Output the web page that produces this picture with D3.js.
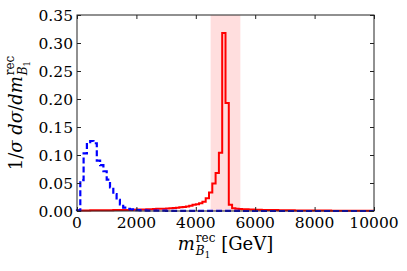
<!DOCTYPE html>
<html lang="en">
<head>
<meta charset="UTF-8">
<script src="https://d3js.org/d3.v7.min.js"></script>
<title>m_B1 rec</title>
<style>
  body { margin: 0; background: #fff; }
  svg text { font-family: "DejaVu Serif", "Liberation Serif", serif; fill: #000; }
</style>
</head>
<body>
<script>
// histogram: 90 bins from 0 to 10000 GeV
var binEdges = d3.range(0, 91).map(function(i) { return i * 10000 / 90; });

var redVals = [
  0.0008, 0.001, 0.001, 0.001, 0.0012, 0.0012, 0.0013, 0.0013, 0.0014,
  0.0015, 0.0015, 0.0016, 0.0017, 0.0018, 0.0018, 0.002, 0.002, 0.0022,
  0.0025, 0.0026, 0.0028, 0.003, 0.0032,
  0.0035, 0.0038, 0.004, 0.0042,
  0.0045, 0.005, 0.0055, 0.006,
  0.0065, 0.0072, 0.008,
  0.0095, 0.011, 0.012, 0.014, 0.0166, 0.0227, 0.033, 0.049, 0.068, 0.104, 0.318, 0.193, 0.011, 0.005, 0.004,
  0.0035, 0.003, 0.003, 0.0028,
  0.0025, 0.0024, 0.0022, 0.002, 0.002, 0.0018, 0.0017, 0.0016,
  0.0015, 0.0014, 0.0013, 0.0012, 0.0012, 0.0011, 0.001, 0.001, 0.0009, 0.0009,
  0.0008, 0.0008, 0.0008, 0.0007, 0.0007, 0.0007, 0.0006, 0.0006, 0.0006, 0.0005,
  0.0005, 0.0005, 0.0004, 0.0004, 0.0004, 0.0003, 0.0003, 0.0003, 0.0003
];

var blueVals = [
  0.001, 0.055, 0.103, 0.123, 0.125, 0.121, 0.09, 0.082, 0.071, 0.056,
  0.042, 0.03, 0.02, 0.012, 0.006, 0.004, 0.003, 0.002, 0.0015, 0.0012,
  0.001, 0.0008, 0.0008, 0.0007, 0.0006, 0.0005, 0.0005, 0.0004, 0.0004, 0.0003,
  0.0003, 0.0003, 0.0002, 0.0002, 0.0002, 0.0002, 0.0002, 0.0001, 0.0001, 0.0001,
  0.0001, 0.0001, 0.0001, 0.0001, 0.0001, 0.0001, 0.0001, 0.0001, 0.0001, 0.0001,
  0, 0, 0, 0, 0, 0, 0, 0, 0, 0,
  0, 0, 0, 0, 0, 0, 0, 0, 0, 0,
  0, 0, 0, 0, 0, 0, 0, 0, 0, 0,
  0, 0, 0, 0, 0, 0, 0, 0, 0, 0
];

var xTicks = [0, 2000, 4000, 6000, 8000, 10000];
var yTicks = [0, 0.05, 0.10, 0.15, 0.20, 0.25, 0.30, 0.35];
var bandRange = [4500, 5500];

var W = 407, H = 271;
var margin = {top: 15, right: 33, bottom: 60, left: 77},
    width = W - margin.left - margin.right,
    height = H - margin.top - margin.bottom;

var x = d3.scaleLinear().domain([0, 10000]).range([0, width]);
var y = d3.scaleLinear().domain([0, 0.35]).range([height, 0]);

var svg = d3.select("body").append("svg")
    .attr("width", W)
    .attr("height", H);

var g = svg.append("g")
    .attr("transform", "translate(" + margin.left + "," + margin.top + ")");

// highlighted mass window
g.append("rect")
    .attr("x", x(bandRange[0]))
    .attr("y", 0)
    .attr("width", x(bandRange[1]) - x(bandRange[0]))
    .attr("height", height)
    .attr("fill", "#ffdede");

// step histogram path
function stepPoints(vals) {
  var pts = [[binEdges[0], 0]];
  vals.forEach(function(v, i) {
    pts.push([binEdges[i], v]);
    pts.push([binEdges[i + 1], v]);
  });
  pts.push([binEdges[binEdges.length - 1], 0]);
  return pts;
}
var line = d3.line()
    .x(function(d) { return x(d[0]); })
    .y(function(d) { return y(d[1]); });

g.append("path")
    .attr("d", line(stepPoints(redVals)))
    .attr("fill", "none")
    .attr("stroke", "#ff0000")
    .attr("stroke-width", 2);

g.append("path")
    .attr("d", line(stepPoints(blueVals)))
    .attr("fill", "none")
    .attr("stroke", "#0000ff")
    .attr("stroke-width", 2.2)
    .attr("stroke-dasharray", "6,3");

// axes (ticks inward on all sides)
var axisColor = "#222";
function styleAxis(sel) {
  sel.select(".domain").remove();
  sel.selectAll("line").attr("stroke", axisColor);
  sel.selectAll("text").remove();
}
g.append("g").attr("transform", "translate(0," + height + ")")
    .call(d3.axisBottom(x).tickValues(xTicks).tickSize(-4)).call(styleAxis);
g.append("g")
    .call(d3.axisTop(x).tickValues(xTicks).tickSize(-4)).call(styleAxis);
g.append("g")
    .call(d3.axisLeft(y).tickValues(yTicks).tickSize(-4)).call(styleAxis);
g.append("g").attr("transform", "translate(" + width + ",0)")
    .call(d3.axisRight(y).tickValues(yTicks).tickSize(-4)).call(styleAxis);

g.append("rect")
    .attr("x", 0).attr("y", 0)
    .attr("width", width).attr("height", height)
    .attr("fill", "none")
    .attr("stroke", axisColor)
    .attr("stroke-width", 1);

// tick labels
var fs = 15.5;
g.selectAll(".xl").data(xTicks).enter().append("text")
    .attr("x", function(d) { return x(d); })
    .attr("y", height + 17)
    .attr("text-anchor", "middle")
    .style("font-size", fs + "px")
    .text(function(d) { return d; });

g.selectAll(".yl").data(yTicks).enter().append("text")
    .attr("x", -4)
    .attr("y", function(d) { return y(d); })
    .attr("dy", "0.36em")
    .attr("text-anchor", "end")
    .style("font-size", fs + "px")
    .text(function(d) { return d.toFixed(2); });

// math-ish label builder: pieces laid out left to right, sup/sub stacked
function mathLabel(parent, pieces) {
  var grp = parent.append("g");
  var cx = 0;
  pieces.forEach(function(p) {
    if (p.stack) {
      var w = 0;
      p.stack.forEach(function(s) {
        var sx = cx;
        s.forEach(function(q) {
          var t = grp.append("text")
              .attr("x", sx).attr("y", q.dy || 0)
              .style("font-size", q.size + "px")
              .style("font-style", q.it ? "italic" : "normal")
              .text(q.t);
          sx += t.node().getComputedTextLength();
        });
        w = Math.max(w, sx - cx);
      });
      cx += w;
    } else {
      var t = grp.append("text")
          .attr("x", cx).attr("y", p.dy || 0)
          .style("font-size", p.size + "px")
          .style("font-style", p.it ? "italic" : "normal")
          .attr("xml:space", "preserve")
          .text(p.t);
      cx += t.node().getComputedTextLength() + (p.gap || 0);
    }
  });
  grp.selectAll("text").attr("x", function() { return +d3.select(this).attr("x") - cx / 2; });
  return grp;
}

var ls = 18;
var xl = mathLabel(svg, [
  {t: "m", size: ls, it: true, gap: 1},
  {stack: [
    [{t: "rec", size: 12, dy: -8}],
    [{t: "B", size: 12, it: true, dy: 5}, {t: "1", size: 8.5, dy: 8}]
  ]},
  {t: " [GeV]", size: ls}
]);
xl.attr("transform", "translate(" + (margin.left + width / 2) + ",250)");

var yl = mathLabel(svg, [
  {t: "1/", size: ls},
  {t: "σ", size: ls, it: true},
  {t: " d", size: ls, it: true},
  {t: "σ", size: ls, it: true},
  {t: "/", size: ls},
  {t: "dm", size: ls, it: true, gap: 1},
  {stack: [
    [{t: "rec", size: 12, dy: -8}],
    [{t: "B", size: 12, it: true, dy: 5}, {t: "1", size: 8.5, dy: 8}]
  ]}
]);
yl.attr("transform", "translate(22," + (margin.top + height / 2) + ") rotate(-90)");
</script>
</body>
</html>
